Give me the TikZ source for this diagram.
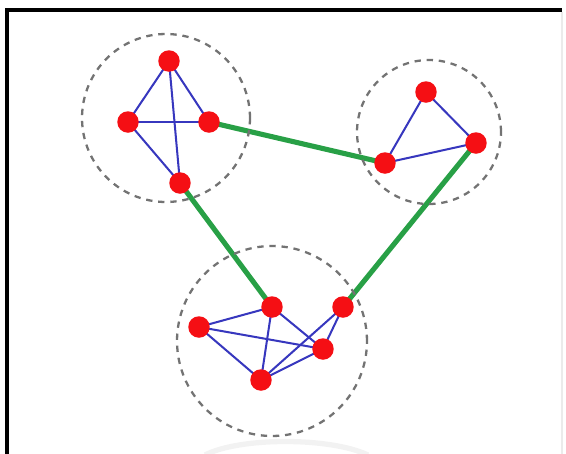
\documentclass[tikz,border=0pt]{standalone}
\definecolor{nodered}{RGB}{245, 15, 20}
\definecolor{edgeblue}{RGB}{55, 55, 190}
\definecolor{linkgreen}{RGB}{40, 160, 70}
\definecolor{ringgray}{RGB}{115, 115, 115}
\usepackage{tikz}
\usetikzlibrary{backgrounds}

\begin{document}
\begin{tikzpicture}[x=0.02cm, y=-0.02cm,
    vtx/.style={circle, fill=nodered, inner sep=0pt, minimum size=0.43cm},
    ring/.style={circle, draw=ringgray, line width=1.3pt, dash pattern=on 3.6pt off 3.3pt, inner sep=0pt},
    intra/.style={edgeblue, line width=1.15pt},
    inter/.style={linkgreen, line width=2.9pt}]
    \useasboundingbox (0,0) rectangle (566,454);
    % moldura
    \draw[line width=1.8pt] (7,454) -- (7,10) -- (562,10);
    \draw[black!8, line width=0.8pt] (562,12) -- (562,454);
    \draw[black!5, line width=3pt] (205,455) .. controls (240,437) and (330,437) .. (368,455);
    % grupo 1
    \node[ring, minimum size=3.36cm] (g1) at (166,118) {};
    \foreach \n/\x/\y in {a1/169/61, a2/128/122, a3/209/122, a4/180/183} {
      \node[vtx] (\n) at (\x,\y) {};
    }
    % grupo 2
    \node[ring, minimum size=2.88cm] (g2) at (429,132) {};
    \foreach \n/\x/\y in {b1/426/92, b2/385/163, b3/476/143} {
      \node[vtx] (\n) at (\x,\y) {};
    }
    % grupo 3
    \node[ring, minimum size=3.8cm] (g3) at (272,341) {};
    \foreach \n/\x/\y in {c1/199/327, c2/272/307, c3/343/307, c4/323/349, c5/261/380} {
      \node[vtx] (\n) at (\x,\y) {};
    }
    % arestas
    \begin{scope}[on background layer]
      \foreach \u/\v in {a1/a2, a1/a3, a1/a4, a2/a3, a2/a4,
                         b1/b2, b1/b3, b2/b3,
                         c1/c2, c1/c5, c1/c4, c2/c5, c2/c4, c3/c5, c3/c4, c4/c5} {
        \draw[intra] (\u.center) -- (\v.center);
      }
      \draw[inter] (a3.center) -- (b2.center);
      \draw[inter] (a4.center) -- (c2.center);
      \draw[inter] (b3.center) -- (c3.center);
    \end{scope}
  \end{tikzpicture}
\end{document}
